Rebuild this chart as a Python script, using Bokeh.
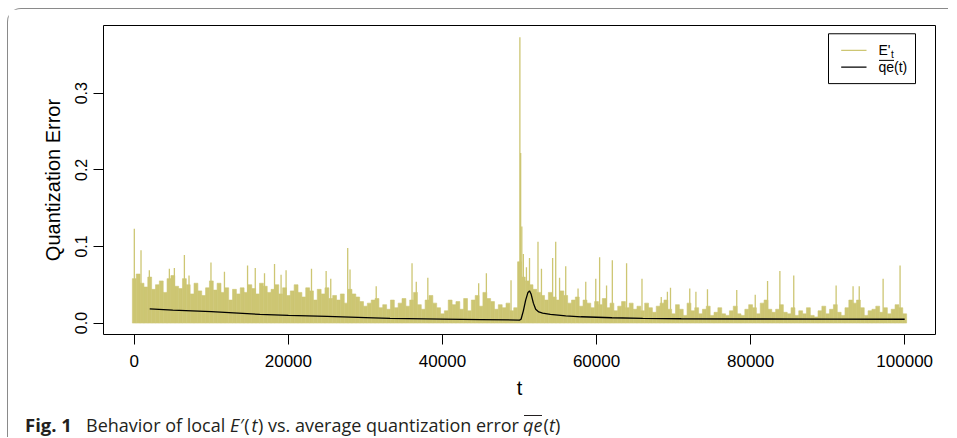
import numpy as np
from bokeh.plotting import figure
from bokeh.layouts import column
from bokeh.models import Range1d, FixedTicker, Label
from bokeh.embed import file_html
from bokeh.resources import INLINE

# ---------------- data ----------------
x_ticks = [0, 20000, 40000, 60000, 80000, 100000]
x_tick_labels = ["0", "20000", "40000", "60000", "80000", "100000"]
y_ticks = [0.0, 0.1, 0.2, 0.3]
y_tick_labels = ["0.0", "0.1", "0.2", "0.3"]

# dense body of local error E'_t : column maxima every 500 steps, t = 0 .. 100000
body_step = 500
e_body = [
    0.058, 0.064, 0.052, 0.047, 0.060, 0.044, 0.050, 0.055, 0.040, 0.058,
    0.062, 0.048, 0.045, 0.058, 0.050, 0.038, 0.052, 0.042, 0.036, 0.046,
    0.055, 0.043, 0.052, 0.040, 0.046, 0.030, 0.044, 0.038, 0.046, 0.040,
    0.050, 0.045, 0.038, 0.052, 0.048, 0.040, 0.044, 0.050, 0.038, 0.046,
    0.036, 0.042, 0.050, 0.040, 0.034, 0.046, 0.042, 0.030, 0.044, 0.038,
    0.046, 0.032, 0.036, 0.030, 0.038, 0.026, 0.044, 0.038, 0.034, 0.028,
    0.022, 0.026, 0.030, 0.032, 0.020, 0.024, 0.018, 0.030, 0.020, 0.026,
    0.032, 0.022, 0.030, 0.040, 0.024, 0.018, 0.030, 0.036, 0.026, 0.020,
    0.012, 0.016, 0.030, 0.024, 0.028, 0.018, 0.032, 0.016, 0.030, 0.036,
    0.022, 0.040, 0.032, 0.028, 0.018, 0.024, 0.020, 0.026, 0.016, 0.020,
    0.080, 0.060, 0.055, 0.050, 0.044, 0.040, 0.036, 0.030, 0.040, 0.034,
    0.030, 0.042, 0.036, 0.026, 0.030, 0.034, 0.022, 0.030, 0.026, 0.020,
    0.028, 0.024, 0.032, 0.020, 0.026, 0.016, 0.022, 0.028, 0.020, 0.026,
    0.018, 0.022, 0.016, 0.026, 0.020, 0.014, 0.022, 0.026, 0.030, 0.018,
    0.012, 0.024, 0.018, 0.010, 0.026, 0.016, 0.020, 0.012, 0.018, 0.022,
    0.010, 0.014, 0.020, 0.012, 0.010, 0.016, 0.022, 0.012, 0.010, 0.018,
    0.024, 0.020, 0.012, 0.026, 0.030, 0.018, 0.014, 0.018, 0.024, 0.014,
    0.012, 0.020, 0.010, 0.016, 0.012, 0.020, 0.010, 0.008, 0.016, 0.022,
    0.012, 0.018, 0.024, 0.014, 0.010, 0.020, 0.030, 0.026, 0.030, 0.020,
    0.010, 0.016, 0.018, 0.022, 0.014, 0.020, 0.012, 0.018, 0.024, 0.020,
    0.012,
]
t_body = [i * body_step for i in range(len(e_body))]

# isolated tall spikes of E'_t
spike_t = [0, 870, 1950, 4550, 5200, 6500, 7100, 9950, 11700, 14700, 15700,
           16900, 18200, 19050, 19700, 23000, 24900, 25500, 27700, 28000, 31400,
           36050, 36600, 38100, 44700, 45700, 48900,
           50050, 50150, 50300, 50500, 50900, 51300, 52400, 52850, 54300, 54700,
           55200, 56000, 57600, 58600, 59900, 60400, 61300, 62050, 63900, 65900,
           68400, 69200, 69600, 72100, 72900, 74400, 78200, 80600, 82200,
           83800, 85600, 91100, 93300, 94100, 97200, 99400]
spike_v = [0.123, 0.095, 0.069, 0.071, 0.072, 0.089, 0.062, 0.079, 0.067, 0.075, 0.072,
           0.065, 0.077, 0.063, 0.069, 0.071, 0.068, 0.058, 0.098, 0.070, 0.048,
           0.078, 0.054, 0.059, 0.052, 0.065, 0.056,
           0.373, 0.222, 0.126, 0.090, 0.073, 0.085, 0.106, 0.071, 0.085, 0.106,
           0.059, 0.074, 0.045, 0.054, 0.058, 0.086, 0.049, 0.082, 0.078, 0.058,
           0.034, 0.041, 0.046, 0.045, 0.041, 0.044, 0.043, 0.037, 0.055,
           0.068, 0.062, 0.049, 0.048, 0.048, 0.058, 0.075]

# average quantization error qe(t)
qe_t = [2000, 5000, 10000, 16300, 20000, 25000, 30000, 33200, 40000, 45000,
        50000, 50200, 50500, 50800, 51100, 51300, 51500, 51800, 52100, 52500,
        53000, 54000, 56000, 58000, 62000, 66000, 71000, 80000, 90000, 100000]
qe_v = [0.0186, 0.0170, 0.0148, 0.0113, 0.0100, 0.0087, 0.0072, 0.0061, 0.0052, 0.0045,
        0.0039, 0.0050, 0.0160, 0.0300, 0.0400, 0.0420, 0.0380, 0.0260, 0.0180, 0.0145,
        0.0130, 0.0113, 0.0095, 0.0082, 0.0069, 0.0060, 0.0056, 0.0053, 0.0051, 0.0050]

# ---------------- styling ----------------
KHAKI = "#CDC673"
X0, X1 = -4000, 104000
Y0, Y1 = -0.01494, 0.38844
F_L, F_R, F_T, F_B = 103, 935, 25, 335   # frame in page pixels


def X(px):
    return X0 + (px - F_L) * (X1 - X0) / (F_R - F_L)


def Y(py):
    return Y1 - (py - F_T) * (Y1 - Y0) / (F_B - F_T)


def label_shift(size):
    # labels with an alphabetic baseline render about a quarter em low
    return 0.25 * size


p = figure(width=940, height=400, output_backend="svg", toolbar_location=None,
           x_range=Range1d(X0, X1), y_range=Range1d(Y0, Y1),
           min_border_left=95, min_border_right=13, min_border_top=16,
           min_border_bottom=75)
p.background_fill_color = "white"
p.border_fill_color = "white"
p.outline_line_color = "black"
p.outline_line_width = 1
p.grid.grid_line_color = None

p.xaxis.ticker = FixedTicker(ticks=x_ticks)
p.xaxis.major_label_overrides = {t: s for t, s in zip(x_ticks, x_tick_labels)}
p.yaxis.ticker = FixedTicker(ticks=y_ticks)
p.yaxis.major_label_overrides = {t: s for t, s in zip(y_ticks, y_tick_labels)}
p.yaxis.major_label_orientation = "vertical"

for ax in (p.xaxis, p.yaxis):
    ax.axis_line_color = None
    ax.major_tick_out = 10
    ax.major_tick_in = 0
    ax.major_tick_line_color = "black"
    ax.minor_tick_line_color = None
    ax.major_label_text_font = "Liberation Sans"
    ax.major_label_text_color = "black"
    ax.axis_label_text_font = "Liberation Sans"
    ax.axis_label_text_font_style = "normal"
    ax.axis_label_text_color = "black"
    ax.axis_label_text_font_size = "20px"

p.xaxis.major_label_text_font_size = "17px"
p.yaxis.major_label_text_font_size = "16px"
p.xaxis.major_label_standoff = 10
p.yaxis.major_label_standoff = 6
p.xaxis.axis_label_standoff = 7
p.yaxis.axis_label_standoff = 9
p.xaxis.axis_label = "t"
p.yaxis.axis_label = "Quantization Error"

# ---------------- marks ----------------
p.vbar(x=t_body, top=e_body, bottom=0, width=body_step,
       fill_color=KHAKI, line_color=KHAKI, line_width=0.6)
p.segment(x0=spike_t, y0=[0] * len(spike_t), x1=spike_t, y1=spike_v,
          line_color=KHAKI, line_width=1.3)
p.line(qe_t, qe_v, line_color="black", line_width=1.3)

# ---------------- legend (drawn by hand to get E'_t and overlined qe) ----------------
p.quad(left=[X(828)], right=[X(915)], top=[Y(33.3)], bottom=[Y(83.3)],
       fill_color="white", line_color="black", line_width=1)
p.segment(x0=[X(840.7)], y0=[Y(50)], x1=[X(866)], y1=[Y(50)], line_color=KHAKI, line_width=1.3)
p.segment(x0=[X(840.7)], y0=[Y(66.7)], x1=[X(866)], y1=[Y(66.7)], line_color="black", line_width=1.3)
p.add_layout(Label(x=X(878), y=Y(53.5 - label_shift(14)), text="E'", text_font="Liberation Sans",
                   text_font_size="14px", text_baseline="alphabetic", text_color="black"))
p.add_layout(Label(x=X(890.5), y=Y(57 - label_shift(10)), text="t", text_font="Liberation Sans",
                   text_font_size="10px", text_baseline="alphabetic", text_color="black"))
p.add_layout(Label(x=X(878), y=Y(70.5 - label_shift(14)), text="qe(t)", text_font="Liberation Sans",
                   text_font_size="14px", text_baseline="alphabetic", text_color="black"))
p.segment(x0=[X(878.5)], y0=[Y(60)], x1=[X(893.5)], y1=[Y(60)], line_color="black", line_width=1)

# ---------------- caption (separate strip under the plot) ----------------
CAP_W, CAP_H = 940, 28
cap = figure(width=CAP_W, height=CAP_H, output_backend="svg", toolbar_location=None,
             x_range=Range1d(0, CAP_W), y_range=Range1d(0, CAP_H),
             min_border=0, min_border_left=0, min_border_right=0,
             min_border_top=0, min_border_bottom=0)
cap.axis.visible = False
cap.grid.grid_line_color = None
cap.outline_line_color = None
cap.background_fill_color = "white"
cap.border_fill_color = "white"
for fig in (p, cap):
    if hasattr(fig, "frame_align"):
        fig.frame_align = False

CX0 = 8.5       # page x of the strip's left edge
CY_TOP = 409.5  # page y of the strip's top edge


def cx(px):
    return px - CX0


def cy(py):
    return CAP_H - (py - CY_TOP)


CF = "Open Sans"
CC = "#231f20"
CS = 18
BASE = cy(429 - label_shift(CS))
cap.add_layout(Label(x=cx(25), y=BASE, text="Fig. 1", text_font=CF, text_font_size="18.5px",
                     text_font_style="bold", text_baseline="alphabetic", text_color=CC))
pieces = [
    (86, "Behavior of local ", "normal"),
    (230, "E", "italic"),
    (240, "\u2032(", "normal"),
    (251.5, "t", "italic"),
    (258, ") vs. average quantization error ", "normal"),
    (523, "qe", "italic"),
    (543.5, "(", "normal"),
    (549, "t", "italic"),
    (555, ")", "normal"),
]
for px, txt, style in pieces:
    cap.add_layout(Label(x=cx(px), y=BASE, text=txt, text_font=CF, text_font_size=f"{CS}px",
                         text_font_style=style, text_baseline="alphabetic", text_color=CC))
cap.segment(x0=[cx(524)], y0=[cy(415.5)], x1=[cx(542)], y1=[cy(415.5)], line_color=CC, line_width=1)

layout = column(p, cap, spacing=0, margin=(8, 0, 0, 7),
                styles={"border-top": "1.5px solid #8a8a8a",
                        "border-left": "1.5px solid #8a8a8a",
                        "border-top-left-radius": "14px"})

open("out.html", "w").write(file_html(layout, INLINE))
